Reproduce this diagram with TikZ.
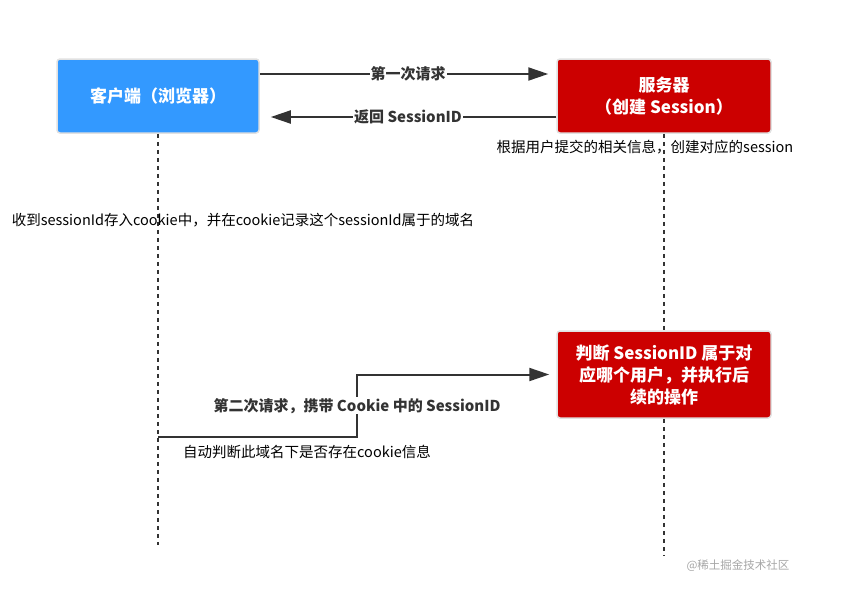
\documentclass[tikz,border=0pt]{standalone}
\usepackage{fontspec}
\setmainfont{Noto Sans CJK SC}
\usetikzlibrary{arrows.meta}
\definecolor{clientblue}{RGB}{51,153,255}
\definecolor{serverred}{RGB}{204,0,0}
\definecolor{linegray}{RGB}{51,51,51}
\definecolor{rimgray}{RGB}{225,225,225}

\begin{document}
\begin{tikzpicture}[x=1pt,y=-1pt,
		box/.style={draw=rimgray, line width=1.5pt, rounded corners=3pt, text=white, align=center, font=\fontsize{17}{22}\selectfont\bfseries},
		life/.style={line width=2.5pt, dash pattern=on 4pt off 4pt, color=linegray},
		msg/.style={line width=2pt, color=linegray, -{Triangle[length=20pt,width=13pt]}},
		lbl/.style={fill=white, inner sep=1pt, text=linegray, font=\fontsize{15}{17}\selectfont\bfseries},
		note/.style={text=black, font=\fontsize{14.5}{17}\selectfont}]
	\useasboundingbox (0,0) rectangle (849,605);
	% participants
	\node[box, fill=clientblue, minimum width=202pt, minimum height=74pt] (client) at (158,96) {客户端（浏览器）};
	\node[box, fill=serverred, minimum width=214pt, minimum height=74pt] (server) at (664,96) {服务器\\（创建 Session）};
	\node[box, fill=serverred, minimum width=214pt, minimum height=87pt] (judge) at (664,374.5) {判断 SessionID 属于对\\应哪个用户，并执行后\\续的操作};
	\coordinate (clientend) at (158,545);
	\coordinate (serverend) at (664,555);
	\coordinate (ask) at (158,437);
	\coordinate (bend) at (357,437);
	% lifelines
	\draw[life] (client) -- (clientend);
	\draw[life] (server) -- (judge);
	\draw[life] (judge) -- (serverend);
	% messages
	\draw[msg, shorten >=8pt] ([yshift=22pt]client.east) -- node[lbl] {第一次请求} ([yshift=22pt]server.west);
	\draw[msg, shorten >=11pt] ([yshift=-21pt]server.west) -- node[lbl] {返回 SessionID} ([yshift=-21pt]client.east);
	\draw[msg, shorten >=7pt] (ask) -- (bend) |- node[lbl, pos=0.25] {第二次请求，携带 Cookie 中的 SessionID} (judge.west);
	% notes
	\node[note] (servernote) at (645,147) {根据用户提交的相关信息，创建对应的session};
	\node[note] (clientnote) at (243,220) {收到sessionId存入cookie中，并在cookie记录这个sessionId属于的域名};
	\node[note] (asknote) at (307,452) {自动判断此域名下是否存在cookie信息};
	\node[text=black!35, font=\fontsize{11.5}{13}\selectfont] (mark) at (738,566) {@稀土掘金技术社区};
\end{tikzpicture}
\end{document}
